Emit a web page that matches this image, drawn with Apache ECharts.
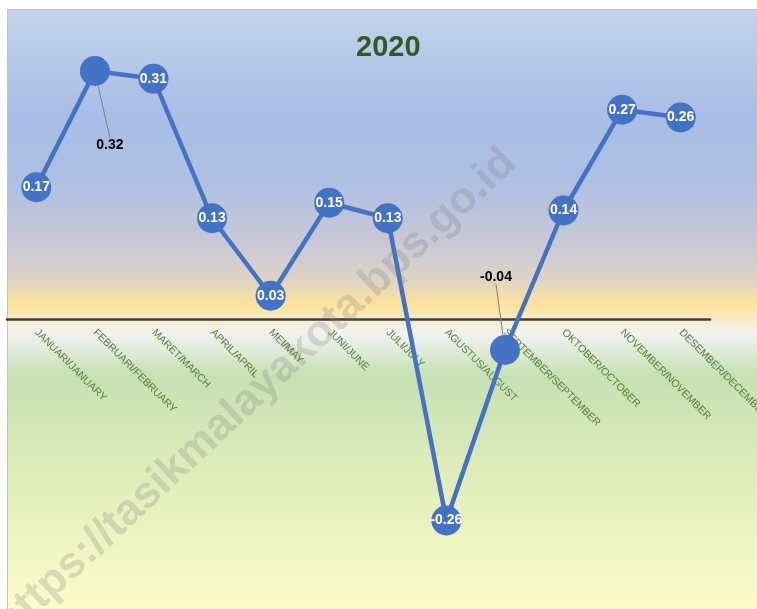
<!DOCTYPE html>
<html><head><meta charset="utf-8">
<script src="https://cdn.jsdelivr.net/npm/echarts@6/dist/echarts.min.js"></script>
<style>html,body{margin:0;padding:0;background:#fff}#c{width:757px;height:609px}</style>
</head><body><div id="c"></div>
<script>
var title = '2020';
var categories = ['JANUARI/JANUARY','FEBRUARI/FEBRUARY','MARET/MARCH','APRIL/APRIL','MEI/MAY','JUNI/JUNE','JULI/JULY','AGUSTUS/AUGUST','SEPTEMBER/SEPTEMBER','OKTOBER/OCTOBER','NOVEMBER/NOVEMBER','DESEMBER/DECEMBER'];
var values = [0.17, 0.32, 0.31, 0.13, 0.03, 0.15, 0.13, -0.26, -0.04, 0.14, 0.27, 0.26];
var watermark = 'https://tasikmalayakota.bps.go.id';

var chart = echarts.init(document.getElementById('c'));
var movedLabels = {1: [15, 74], 8: [-9, -73]};
var data = values.map(function (v, i) {
  var d = {value: v};
  if (movedLabels[i]) {
    d.label = {color: '#000000'};
  }
  return d;
});
var yMin = -0.36, yMax = 0.4, gridTop = 9, gridBottom = 11, H = 609;
var plotH = H - gridTop - gridBottom;
var zeroOffset = -plotH * (0 - yMin) / (yMax - yMin);
chart.setOption({
  animation: false,
  graphic: [
    {type: 'rect', z: -10, silent: true,
     shape: {x: 7.5, y: 9.5, width: 760, height: 610},
     style: {stroke: '#c4c4c4', lineWidth: 1,
       fill: new echarts.graphic.LinearGradient(0, 0, 0, 1, [
         {offset: 0, color: '#c4d4ec'},
         {offset: 0.17, color: '#a9bde6'},
         {offset: 0.28, color: '#adbfe2'},
         {offset: 0.385, color: '#cac8d6'},
         {offset: 0.44, color: '#dcd2c6'},
         {offset: 0.485, color: '#fee39a'},
         {offset: 0.53, color: '#f2f2f2'},
         {offset: 0.6, color: '#c6e0b4'},
         {offset: 0.74, color: '#dcebb9'},
         {offset: 1, color: '#fefecb'}
       ])}},
    {type: 'text', z: 100, silent: true, x: 256, y: 393, rotation: 43 * Math.PI / 180,
     style: {text: watermark, fontFamily: 'Liberation Sans', fontWeight: 'bold', fontSize: 44,
       fill: 'rgba(120,120,120,0.24)', align: 'center', verticalAlign: 'middle'}}
  ],
  title: {text: title, left: 351, top: 28,
    textStyle: {color: '#375623', fontFamily: 'Liberation Sans', fontWeight: 'bold', fontSize: 29}},
  grid: {left: 7, right: 47, top: gridTop, bottom: gridBottom, containLabel: false, outerBoundsMode: 'none'},
  xAxis: {type: 'category', data: categories, boundaryGap: true, position: 'bottom', offset: zeroOffset,
    axisLine: {onZero: false, lineStyle: {color: '#404040', width: 2.5}},
    axisTick: {show: false},
    axisLabel: {rotate: -45, interval: 0, margin: 12, color: '#548235',
      fontFamily: 'Liberation Sans', fontSize: 10.5}},
  yAxis: {type: 'value', min: yMin, max: yMax, show: false, splitLine: {show: false}},
  series: [{
    type: 'line', data: data, symbol: 'circle', symbolSize: 30,
    itemStyle: {color: '#4472c4'}, lineStyle: {color: '#4472c4', width: 4.5},
    label: {show: true, position: 'inside', color: '#ffffff', fontFamily: 'Liberation Sans',
      fontWeight: 'bold', fontSize: 14, formatter: function (p) { return p.value.toFixed(2); }},
    labelLine: {show: true, lineStyle: {color: '#808080', width: 1}},
    labelLayout: function (p) {
      var m = movedLabels[p.dataIndex];
      if (m) { return {dx: m[0], dy: m[1]}; }
      return {};
    }
  }]
});
</script></body></html>
